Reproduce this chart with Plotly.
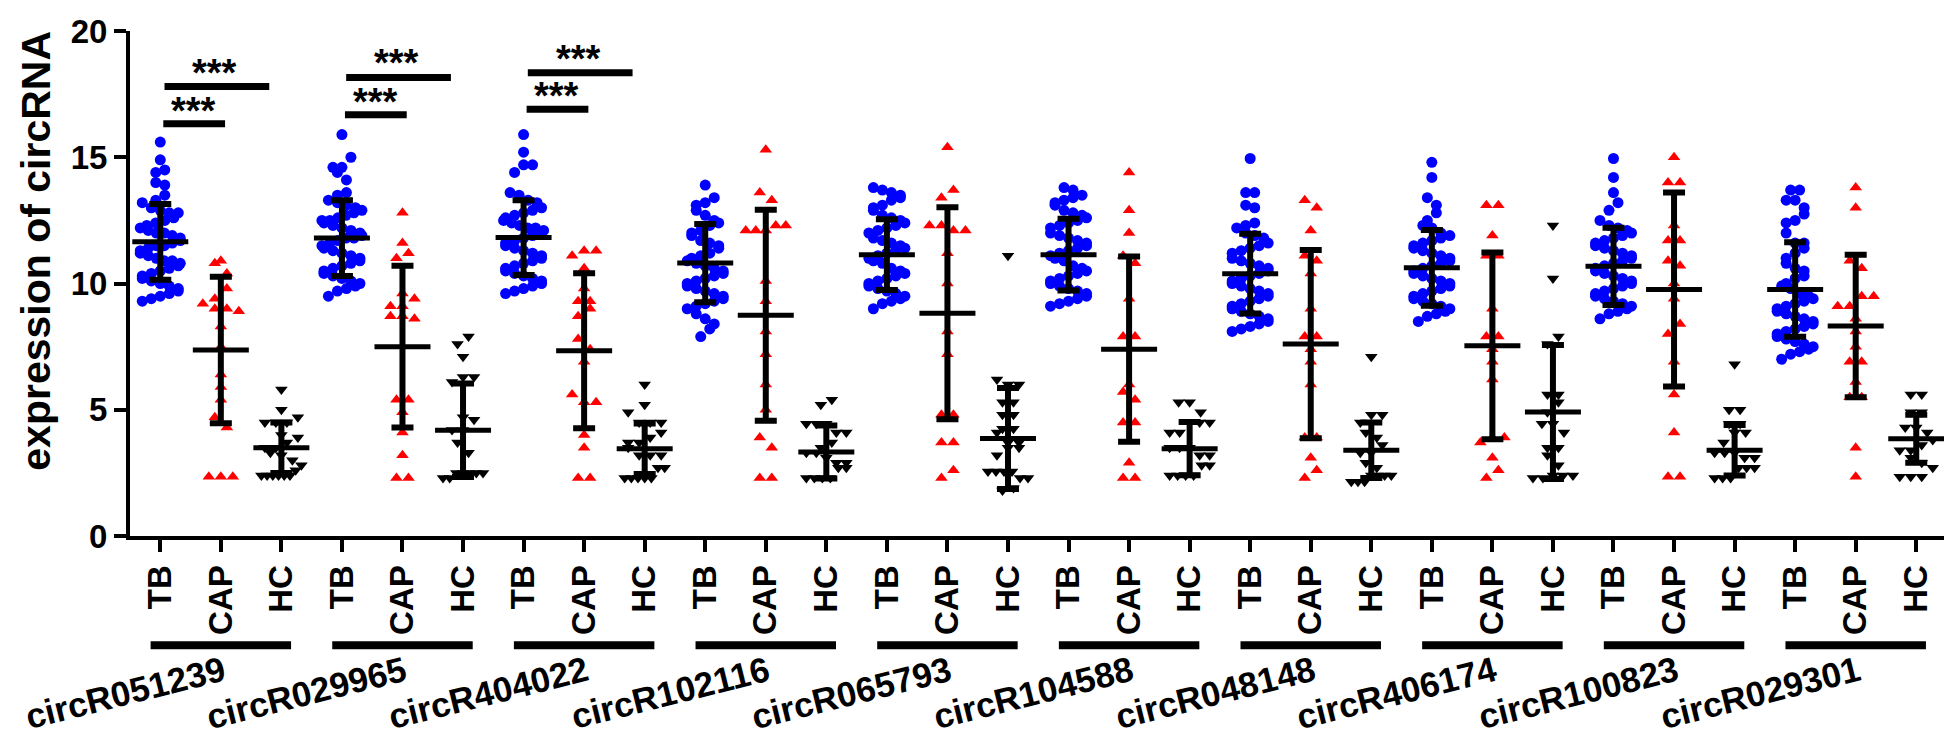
import plotly.graph_objects as go

GENES = ["circR051239", "circR029965", "circR404022", "circR102116", "circR065793",
         "circR104588", "circR048148", "circR406174", "circR100823", "circR029301"]
GROUPS = ["TB", "CAP", "HC"]

# expression values, one list per circRNA
TB_VALUES = [
    [15.6, 14.9, 14.5, 14.4, 14.0, 13.9, 13.5, 13.3, 13.2, 13.0, 12.9, 12.8, 12.8, 12.6, 12.5, 12.4, 12.3,
     12.2, 12.1, 12.0, 12.0, 11.9, 11.8, 11.7, 11.6, 11.5, 11.5, 11.4, 11.3, 11.2, 11.1, 11.0, 10.9, 10.9,
     10.8, 10.7, 10.6, 10.5, 10.4, 10.3, 10.2, 10.1, 10.0, 9.9, 9.8, 9.7, 9.6, 9.5, 9.4, 9.3],
    [15.9, 15.0, 14.6, 14.6, 14.4, 14.1, 13.6, 13.5, 13.3, 13.2, 13.1, 13.0, 12.9, 12.8, 12.7, 12.6, 12.5,
     12.5, 12.4, 12.3, 12.2, 12.1, 12.0, 11.9, 11.8, 11.8, 11.7, 11.6, 11.5, 11.4, 11.3, 11.2, 11.1, 11.0,
     10.9, 10.8, 10.7, 10.6, 10.5, 10.4, 10.3, 10.2, 10.1, 10.0, 9.9, 9.8, 9.7, 9.5],
    [15.9, 15.2, 14.7, 14.7, 14.4, 13.6, 13.5, 13.3, 13.2, 13.0, 12.9, 12.8, 12.7, 12.6, 12.5, 12.4, 12.3,
     12.2, 12.2, 12.1, 12.0, 11.9, 11.8, 11.7, 11.6, 11.5, 11.4, 11.3, 11.2, 11.1, 11.0, 10.9, 10.8, 10.7,
     10.6, 10.5, 10.4, 10.3, 10.2, 10.1, 10.0, 9.9, 9.8, 9.7, 9.6],
    [13.9, 13.4, 13.2, 13.1, 12.9, 12.7, 12.5, 12.4, 12.3, 12.1, 12.0, 11.9, 11.7, 11.6, 11.5, 11.4, 11.2,
     11.1, 11.0, 10.9, 10.8, 10.7, 10.6, 10.5, 10.4, 10.3, 10.2, 10.1, 10.0, 9.9, 9.8, 9.7, 9.6, 9.5, 9.4,
     9.3, 9.2, 9.1, 9.0, 8.8, 8.6, 8.4, 8.2, 7.9],
    [13.8, 13.7, 13.6, 13.5, 13.4, 13.3, 13.1, 13.0, 12.9, 12.7, 12.6, 12.5, 12.4, 12.3, 12.2, 12.1, 12.0,
     11.8, 11.7, 11.6, 11.5, 11.4, 11.3, 11.2, 11.1, 11.0, 10.9, 10.8, 10.6, 10.5, 10.4, 10.3, 10.2, 10.1,
     10.0, 9.9, 9.8, 9.7, 9.6, 9.5, 9.4, 9.3, 9.2, 9.0],
    [13.8, 13.7, 13.5, 13.4, 13.3, 13.2, 13.1, 12.9, 12.8, 12.7, 12.6, 12.5, 12.4, 12.3, 12.2, 12.0, 11.9,
     11.8, 11.7, 11.6, 11.5, 11.4, 11.3, 11.2, 11.1, 11.0, 10.9, 10.7, 10.6, 10.5, 10.4, 10.3, 10.2, 10.1,
     10.0, 9.9, 9.8, 9.7, 9.6, 9.5, 9.4, 9.3, 9.2, 9.1],
    [14.95, 13.6, 13.6, 13.1, 13.0, 12.4, 12.3, 12.2, 12.0, 11.9, 11.8, 11.6, 11.5, 11.4, 11.3, 11.2, 11.0,
     10.9, 10.8, 10.7, 10.6, 10.5, 10.4, 10.3, 10.2, 10.1, 10.0, 9.9, 9.8, 9.7, 9.6, 9.5, 9.4, 9.3, 9.2,
     9.1, 9.0, 8.9, 8.8, 8.7, 8.6, 8.5, 8.4, 8.3, 8.2, 8.1],
    [14.8, 14.2, 13.4, 13.1, 12.8, 12.5, 12.3, 12.2, 12.0, 11.9, 11.8, 11.7, 11.6, 11.5, 11.4, 11.3, 11.2,
     11.1, 11.0, 10.9, 10.8, 10.7, 10.6, 10.5, 10.4, 10.3, 10.2, 10.1, 10.0, 9.9, 9.8, 9.7, 9.6, 9.5, 9.4,
     9.3, 9.2, 9.1, 9.0, 8.9, 8.8, 8.7, 8.5],
    [14.95, 14.2, 13.6, 13.2, 12.9, 12.5, 12.3, 12.2, 12.1, 12.0, 11.9, 11.8, 11.7, 11.6, 11.5, 11.4, 11.3,
     11.2, 11.1, 11.0, 10.9, 10.8, 10.7, 10.6, 10.5, 10.4, 10.3, 10.2, 10.1, 10.0, 9.9, 9.8, 9.7, 9.6, 9.5,
     9.4, 9.3, 9.2, 9.1, 9.0, 8.9, 8.8, 8.6],
    [13.7, 13.7, 13.3, 13.3, 13.0, 12.75, 12.5, 12.4, 12.0, 11.6, 11.6, 11.4, 11.2, 11.0, 10.8, 10.6, 10.5,
     10.3, 10.2, 10.0, 9.9, 9.8, 9.6, 9.5, 9.4, 9.3, 9.2, 9.1, 9.0, 8.9, 8.8, 8.7, 8.6, 8.5, 8.4, 8.3,
     8.2, 8.1, 8.0, 7.9, 7.8, 7.7, 7.6, 7.5, 7.4, 7.3, 7.2, 7.0],
]
CAP_VALUES = [
    [10.8, 10.9, 10.4, 9.8, 9.4, 9.2, 9.0, 8.9, 9.0, 8.3, 7.5, 6.4, 5.9, 5.4, 4.7, 4.3, 2.35, 2.35, 2.35],
    [12.8, 11.6, 11.2, 11.0, 9.6, 9.4, 9.1, 9.1, 8.7, 8.7, 8.6, 5.4, 5.4, 4.9, 4.1, 3.2, 2.3, 2.3],
    [11.3, 11.3, 11.1, 10.6, 9.8, 9.3, 9.3, 9.0, 8.7, 7.8, 7.4, 6.9, 5.6, 5.3, 5.3, 4.0, 3.5, 2.3, 2.3],
    [15.3, 13.6, 13.3, 12.3, 12.3, 12.1, 12.1, 12.1, 10.1, 9.3, 8.1, 7.2, 6.0, 5.0, 3.9, 3.5, 2.3, 2.3],
    [15.4, 13.7, 13.4, 12.3, 12.3, 12.1, 12.1, 11.2, 10.0, 8.1, 7.2, 4.8, 4.8, 3.7, 3.7, 2.6, 2.3],
    [14.4, 12.9, 12.0, 11.1, 10.8, 9.4, 7.9, 7.9, 6.0, 5.7, 5.4, 4.5, 4.5, 2.9, 2.3, 2.3],
    [13.3, 13.0, 12.1, 11.1, 10.9, 10.4, 9.0, 7.9, 7.9, 7.4, 6.9, 6.0, 3.9, 3.9, 3.1, 2.6, 2.3],
    [13.1, 13.1, 11.9, 11.1, 11.1, 9.0, 7.9, 7.9, 7.4, 6.9, 6.2, 3.9, 3.9, 3.7, 3.1, 2.6, 2.3],
    [15.0, 14.0, 14.0, 12.3, 11.7, 11.7, 10.9, 10.7, 10.0, 9.4, 8.4, 8.0, 6.9, 5.6, 4.1, 2.35, 2.35],
    [13.8, 13.0, 10.9, 10.6, 9.5, 9.5, 9.1, 9.1, 8.6, 8.1, 7.5, 6.9, 6.9, 6.1, 5.5, 5.5, 3.5, 2.35],
]
HC_VALUES = [
    [5.8, 5.0, 4.7, 4.5, 4.5, 4.5, 4.0, 3.9, 3.7, 3.5, 3.5, 3.3, 3.2, 3.0, 2.8, 2.6, 2.4, 2.4, 2.4, 2.4, 2.4, 2.4],
    [7.9, 7.6, 7.1, 6.3, 6.3, 6.1, 4.7, 4.6, 4.2, 4.2, 3.7, 3.3, 2.5, 2.5, 2.5, 2.5, 2.5, 2.3, 2.3],
    [6.0, 5.2, 4.9, 4.5, 4.5, 4.5, 4.1, 3.9, 3.7, 3.7, 3.5, 3.2, 3.2, 3.2, 2.7, 2.7, 2.3, 2.3, 2.3, 2.3, 2.3],
    [5.4, 5.2, 4.45, 4.45, 4.45, 4.1, 4.1, 3.7, 3.5, 3.3, 3.3, 3.1, 2.9, 2.9, 2.7, 2.7, 2.3, 2.3, 2.3, 2.3],
    [11.1, 6.2, 6.0, 6.0, 5.3, 5.3, 4.8, 4.8, 4.25, 4.25, 4.1, 3.7, 3.7, 3.5, 3.5, 3.2, 2.55, 2.55, 2.55,
     2.55, 2.3, 2.3, 1.9, 1.8],
    [5.3, 5.3, 4.9, 4.5, 4.5, 4.5, 4.1, 4.1, 3.5, 3.5, 3.5, 3.2, 3.2, 2.8, 2.8, 2.4, 2.4, 2.4, 2.4],
    [7.1, 4.8, 4.8, 4.5, 4.1, 3.9, 3.6, 3.3, 3.3, 2.9, 2.7, 2.4, 2.4, 2.4, 2.4, 2.15, 2.15, 2.15],
    [12.3, 10.2, 7.9, 7.6, 5.6, 5.6, 5.3, 4.9, 4.45, 4.45, 4.1, 3.5, 3.5, 3.2, 2.8, 2.4, 2.4, 2.4, 2.3, 2.3],
    [6.8, 5.0, 5.0, 4.45, 4.45, 4.1, 4.1, 3.7, 3.3, 3.3, 3.3, 3.1, 3.1, 2.7, 2.7, 2.7, 2.3, 2.3, 2.3],
    [5.6, 5.6, 4.9, 4.9, 4.3, 4.3, 4.1, 3.8, 3.6, 3.4, 3.4, 3.1, 2.9, 2.7, 2.35, 2.35, 2.35],
]

# mean and SD bars as drawn in the picture
TB_MEAN = [11.65, 11.8, 11.82, 10.81, 11.14, 11.14, 10.39, 10.62, 10.68, 9.76]
TB_SD = [1.5, 1.5, 1.48, 1.55, 1.4, 1.42, 1.58, 1.5, 1.53, 1.87]
CAP_MEAN = [7.37, 7.5, 7.34, 8.74, 8.82, 7.4, 7.6, 7.53, 9.76, 8.32]
CAP_SD = [2.9, 3.2, 3.07, 4.18, 4.2, 3.67, 3.73, 3.7, 3.84, 2.82]
HC_MEAN = [3.5, 4.19, 3.46, 3.33, 3.86, 3.46, 3.4, 4.91, 3.4, 3.85]
HC_SD = [1.0, 1.85, 1.0, 1.05, 2.0, 1.05, 1.1, 2.65, 1.0, 0.95]

# significance brackets (TB vs CAP, TB vs HC)
SIG_GENES = [0, 1, 2]
SIG_SHORT_Y = [16.33, 16.68, 16.9]
SIG_LONG_Y = [17.8, 18.16, 18.35]
SIG_LABEL = "***"

W, H = 1952, 734
ML, MR, MT, MB = 122, 5, 20, 206
X_RANGE = [-0.5, 29.64]
Y_RANGE = [0, 20]
PX_X = (W - ML - MR) / (X_RANGE[1] - X_RANGE[0])
PX_Y = (H - MT - MB) / (Y_RANGE[1] - Y_RANGE[0])
FONT = "Liberation Sans, Arial, sans-serif"


def swarm(values, row_px=11.0, step_px=10.0, max_px=40.0):
    # prism-like scatter: points falling in the same row are spread sideways
    order = sorted(range(len(values)), key=lambda i: values[i])
    offs = [0.0] * len(values)
    rows, start = [], None
    for i in order:
        y = values[i] * PX_Y
        if start is None or y - start > row_px:
            rows.append([i])
            start = y
        else:
            rows[-1].append(i)
    for r, row in enumerate(rows):
        n = len(row)
        step = step_px if n < 2 else min(step_px, max_px / (n - 1))
        slots = [(j - (n - 1) / 2) * step for j in range(n)]
        if r % 2:
            slots = slots[::-1]
        for i, s in zip(row, slots):
            offs[i] = s / PX_X
    return offs


fig = go.Figure()

styles = [
    ("TB", TB_VALUES, "circle", 11, "#0000ff", TB_MEAN, TB_SD, 9.0),
    ("CAP", CAP_VALUES, "triangle-up", 11, "#ff0000", CAP_MEAN, CAP_SD, 12.0),
    ("HC", HC_VALUES, "triangle-down", 11, "black", HC_MEAN, HC_SD, 11.0),
]

for k, (name, values, symbol, size, color, _, _, step) in enumerate(styles):
    xs, ys = [], []
    for g, vals in enumerate(values):
        offs = swarm(vals, step_px=step)
        xs += [g * 3 + k + o for o in offs]
        ys += vals
    fig.add_trace(go.Scatter(
        x=xs, y=ys, mode="markers", name=name, showlegend=False,
        marker=dict(symbol=symbol, size=size, color=color, line=dict(width=0))
    ))

# mean +/- SD
for k, (name, _, _, _, _, mean, sd, _) in enumerate(styles):
    fig.add_trace(go.Scatter(
        x=[g * 3 + k for g in range(len(GENES))], y=mean, mode="markers", showlegend=False,
        marker=dict(symbol="line-ew", size=40, line=dict(width=5, color="black")),
        error_y=dict(type="data", array=sd, color="black", thickness=6, width=11)
    ))

shapes = []
annotations = []

star_font = dict(family=FONT, size=38, color="black", weight="bold")
for g, yshort, ylong in zip(SIG_GENES, SIG_SHORT_Y, SIG_LONG_Y):
    tb = g * 3
    shapes.append(dict(type="line", xref="x", yref="y", x0=tb + 0.05, x1=tb + 1.07,
                       y0=yshort, y1=yshort, line=dict(color="black", width=7)))
    shapes.append(dict(type="line", xref="x", yref="y", x0=tb + 0.07, x1=tb + 1.8,
                       y0=ylong, y1=ylong, line=dict(color="black", width=7)))
    annotations.append(dict(text=SIG_LABEL, xref="x", yref="y", x=tb + 0.55, y=yshort,
                            yanchor="middle", yshift=13, showarrow=False, font=star_font))
    annotations.append(dict(text=SIG_LABEL, xref="x", yref="y", x=tb + 0.9, y=ylong,
                            yanchor="middle", yshift=14, showarrow=False, font=star_font))

bar_y = (H - MB - 638) / (H - MT - MB)
label_y = (H - MB - 685) / (H - MT - MB)
for g, gene in enumerate(GENES):
    shapes.append(dict(type="line", xref="x", yref="paper", x0=g * 3 - 0.16, x1=g * 3 + 2.16,
                       y0=bar_y, y1=bar_y, line=dict(color="black", width=8)))
    annotations.append(dict(text=gene, xref="x", yref="paper", x=g * 3 + 1, y=label_y,
                            xshift=-96, textangle=-14, showarrow=False,
                            xanchor="center", yanchor="middle",
                            font=dict(family=FONT, size=35, color="black", weight="bold")))

annotations.append(dict(text="expression of circRNA", xref="paper", yref="paper",
                        x=(28 - ML) / (W - ML - MR), y=(H - MB - 241) / (H - MT - MB),
                        textangle=-90, showarrow=False, xanchor="center", yanchor="middle",
                        font=dict(family=FONT, size=41, color="black", weight="bold")))

fig.update_layout(
    width=W, height=H,
    margin=dict(l=ML, r=MR, t=MT, b=MB),
    plot_bgcolor="white", paper_bgcolor="white",
    font=dict(family=FONT, color="black", weight="bold"),
    shapes=shapes, annotations=annotations,
    showlegend=False,
)

fig.update_xaxes(
    range=X_RANGE, tickmode="array",
    tickvals=list(range(len(GENES) * 3)),
    ticktext=GROUPS * len(GENES),
    tickangle=-90, ticks="outside", ticklen=12, tickwidth=4, tickcolor="black",
    tickfont=dict(family=FONT, size=33, color="black", weight="bold"),
    showline=True, linewidth=4, linecolor="black",
    showgrid=False, zeroline=False,
)
fig.update_yaxes(
    range=Y_RANGE, tickvals=[0, 5, 10, 15, 20],
    ticks="outside", ticklen=12, tickwidth=4, tickcolor="black",
    tickfont=dict(family=FONT, size=33, color="black", weight="bold"),
    showline=True, linewidth=4, linecolor="black",
    showgrid=False, zeroline=False,
)

fig.write_html("out.html")
